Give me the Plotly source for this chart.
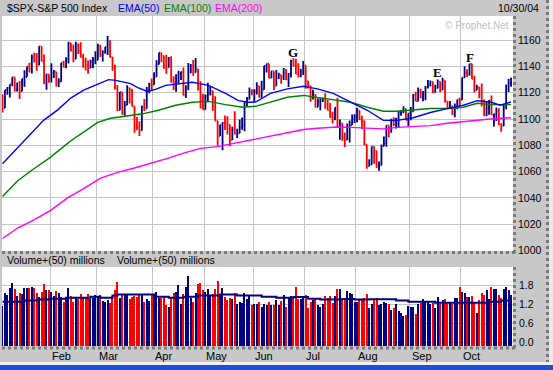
import plotly.graph_objects as go

# ---------------- data (S&P 500 daily, Jan 2 - Oct 29, 2004) ----------------
months = ["Feb", "Mar", "Apr", "May", "Jun", "Jul", "Aug", "Sep", "Oct"]
month_start = [20, 39, 62, 83, 103, 124, 145, 167, 188]  # session index of first trading day

closes = [
    1108.48, 1122.22, 1123.67, 1126.33, 1131.92, 1121.86, 1127.23, 1121.22, 1130.52, 1132.05, 1139.83, 1138.77, 1147.62, 1143.94, 1141.55, 1155.37, 1144.05, 1128.48, 1134.11, 1131.13,
    1135.26, 1136.03, 1126.52, 1128.59, 1142.76, 1139.81, 1145.54, 1157.76, 1152.11, 1145.81, 1156.99, 1151.82, 1147.06, 1144.11, 1140.99, 1139.09, 1143.67, 1144.91, 1144.94,
    1155.97, 1149.10, 1151.03, 1154.87, 1156.86, 1147.20, 1140.58, 1123.89, 1106.78, 1120.57, 1104.49, 1110.70, 1123.75, 1122.32, 1109.78, 1095.40, 1093.95, 1091.33, 1109.19, 1108.06, 1122.47, 1127.00, 1126.21,
    1132.17, 1141.81, 1150.57, 1148.16, 1140.53, 1139.32, 1145.20, 1129.44, 1128.17, 1128.84, 1134.61, 1135.82, 1118.15, 1124.09, 1139.93, 1140.60, 1135.53, 1138.11, 1122.41, 1113.89, 1107.30,
    1117.49, 1119.55, 1121.53, 1113.99, 1098.70, 1087.12, 1095.45, 1097.28, 1096.44, 1095.70, 1084.10, 1091.49, 1088.68, 1089.19, 1093.56, 1095.41, 1113.05, 1114.94, 1121.28, 1120.68,
    1121.20, 1124.99, 1116.64, 1122.50, 1140.42, 1142.18, 1131.33, 1136.47, 1125.29, 1132.01, 1133.56, 1132.05, 1135.02, 1130.30, 1134.41, 1144.06, 1140.65, 1134.43, 1133.35, 1136.20, 1140.84,
    1128.94, 1125.38, 1116.21, 1118.33, 1109.11, 1112.81, 1114.35, 1115.14, 1111.47, 1106.69, 1101.39, 1100.90, 1108.67, 1093.88, 1096.84, 1086.20, 1084.07, 1094.83, 1095.42, 1100.43, 1101.72,
    1106.62, 1099.69, 1098.63, 1080.70, 1063.97, 1065.22, 1079.04, 1075.79, 1063.23, 1064.80, 1079.34, 1081.71, 1095.17, 1091.23, 1098.35, 1095.68, 1096.19, 1104.96, 1105.09, 1107.77, 1099.15, 1104.24,
    1105.91, 1118.31, 1113.63, 1121.30, 1116.27, 1118.38, 1123.92, 1125.82, 1128.33, 1120.37, 1123.50, 1128.55, 1122.20, 1129.30, 1113.56, 1108.36, 1110.11, 1103.52, 1110.06, 1114.80, 1114.58,
    1131.50, 1135.17, 1134.48, 1142.05, 1130.65, 1122.14, 1124.39, 1121.84, 1113.65, 1103.29, 1108.20, 1114.02, 1103.23, 1103.66, 1106.49, 1095.74, 1094.80, 1111.09, 1125.40, 1127.44, 1130.20,
]

opens = [
    1111.92, 1108.48, 1122.22, 1123.67, 1126.33, 1131.92, 1121.86, 1127.23, 1121.22, 1130.52, 1132.05, 1139.83, 1138.77, 1147.62, 1143.94, 1141.55, 1155.37, 1144.05, 1128.48, 1134.11,
    1131.13, 1135.26, 1136.03, 1126.52, 1128.59, 1142.76, 1139.81, 1145.54, 1157.76, 1152.11, 1145.81, 1156.99, 1151.82, 1147.06, 1144.11, 1140.99, 1139.09, 1143.67, 1144.91,
    1144.94, 1155.97, 1149.10, 1151.03, 1154.87, 1156.86, 1147.20, 1140.58, 1123.89, 1106.78, 1120.57, 1104.49, 1110.70, 1123.75, 1122.32, 1109.78, 1095.40, 1093.95, 1091.33, 1109.19, 1108.06, 1122.47, 1127.00,
    1126.21, 1132.17, 1141.81, 1150.57, 1148.16, 1140.53, 1139.32, 1145.20, 1129.44, 1128.17, 1128.84, 1134.61, 1135.82, 1118.15, 1124.09, 1139.93, 1140.60, 1135.53, 1138.11, 1122.41, 1113.89,
    1107.30, 1117.49, 1119.55, 1121.53, 1113.99, 1098.70, 1087.12, 1095.45, 1097.28, 1096.44, 1095.70, 1084.10, 1091.49, 1088.68, 1089.19, 1093.56, 1095.41, 1113.05, 1114.94, 1121.28,
    1120.68, 1121.20, 1124.99, 1116.64, 1122.50, 1140.42, 1142.18, 1131.33, 1136.47, 1125.29, 1132.01, 1133.56, 1132.05, 1135.02, 1130.30, 1134.41, 1144.06, 1140.65, 1134.43, 1133.35, 1136.20,
    1140.84, 1128.94, 1125.38, 1116.21, 1118.33, 1109.11, 1112.81, 1114.35, 1115.14, 1111.47, 1106.69, 1101.39, 1100.90, 1108.67, 1093.88, 1096.84, 1086.20, 1084.07, 1094.83, 1095.42, 1100.43,
    1101.72, 1106.62, 1099.69, 1098.63, 1080.70, 1063.97, 1065.22, 1079.04, 1075.79, 1063.23, 1064.80, 1079.34, 1081.71, 1095.17, 1091.23, 1098.35, 1095.68, 1096.19, 1104.96, 1105.09, 1107.77, 1099.15,
    1104.24, 1105.91, 1118.31, 1113.63, 1121.30, 1116.27, 1118.38, 1123.92, 1125.82, 1128.33, 1120.37, 1123.50, 1128.55, 1122.20, 1129.30, 1113.56, 1108.36, 1110.11, 1103.52, 1110.06, 1114.80,
    1114.58, 1131.50, 1135.17, 1134.48, 1142.05, 1130.65, 1122.14, 1124.39, 1121.84, 1113.65, 1103.29, 1108.20, 1114.02, 1103.23, 1103.66, 1106.49, 1095.74, 1094.80, 1111.09, 1125.40, 1127.44,
]

highs = [
    1118.85, 1122.22, 1124.46, 1126.33, 1131.92, 1131.92, 1127.85, 1129.07, 1130.75, 1137.11, 1139.83, 1142.93, 1149.21, 1150.51, 1150.31, 1155.38, 1155.37, 1149.14, 1134.39, 1134.17,
    1142.45, 1137.44, 1136.03, 1131.17, 1142.79, 1144.46, 1147.02, 1158.89, 1157.76, 1156.88, 1158.98, 1157.40, 1158.57, 1149.81, 1146.69, 1144.54, 1145.24, 1147.23, 1151.68,
    1157.45, 1156.54, 1152.44, 1154.97, 1163.23, 1159.94, 1147.32, 1141.45, 1125.96, 1120.63, 1120.57, 1113.76, 1125.76, 1123.75, 1122.72, 1109.78, 1101.52, 1098.32, 1110.38, 1115.27, 1124.37, 1127.60, 1130.83,
    1135.67, 1144.81, 1150.57, 1150.57, 1148.16, 1148.97, 1147.29, 1147.78, 1132.52, 1134.08, 1136.80, 1136.18, 1139.26, 1125.72, 1142.77, 1141.92, 1145.08, 1146.56, 1138.11, 1128.80, 1119.26,
    1118.72, 1127.74, 1125.07, 1121.53, 1117.30, 1098.70, 1095.69, 1097.55, 1102.77, 1102.10, 1095.70, 1094.10, 1105.93, 1092.62, 1099.64, 1101.28, 1113.80, 1116.71, 1123.95, 1122.69,
    1122.70, 1128.10, 1125.31, 1129.17, 1140.54, 1142.18, 1142.18, 1136.47, 1136.47, 1137.36, 1135.28, 1133.56, 1138.96, 1138.05, 1135.05, 1145.15, 1146.34, 1145.97, 1142.60, 1138.26, 1144.20,
    1140.84, 1129.15, 1125.38, 1122.37, 1119.12, 1115.57, 1116.11, 1116.30, 1119.60, 1114.63, 1112.17, 1105.52, 1108.88, 1116.27, 1099.66, 1096.84, 1089.82, 1096.65, 1098.84, 1103.51, 1103.73,
    1108.60, 1106.62, 1102.45, 1098.79, 1080.70, 1069.46, 1079.04, 1079.04, 1075.79, 1067.58, 1080.66, 1086.78, 1095.17, 1095.17, 1100.26, 1101.40, 1100.94, 1106.29, 1106.78, 1109.68, 1107.77, 1104.24,
    1109.24, 1119.11, 1120.80, 1124.08, 1123.05, 1121.30, 1125.26, 1129.78, 1129.46, 1128.33, 1126.06, 1130.14, 1128.55, 1131.54, 1129.30, 1113.61, 1113.81, 1110.11, 1111.77, 1114.80, 1116.31,
    1131.64, 1140.13, 1137.87, 1142.05, 1142.05, 1132.92, 1126.20, 1124.39, 1127.01, 1114.96, 1113.17, 1114.46, 1117.96, 1104.09, 1108.87, 1108.14, 1096.81, 1111.10, 1126.29, 1130.67, 1131.40,
]

lows = [
    1105.08, 1108.48, 1118.44, 1116.45, 1124.91, 1120.90, 1120.90, 1115.19, 1121.22, 1124.54, 1132.05, 1135.40, 1134.62, 1143.01, 1136.85, 1141.00, 1144.05, 1126.50, 1122.38, 1127.73,
    1127.87, 1131.33, 1124.74, 1124.44, 1128.39, 1139.21, 1138.70, 1142.33, 1151.44, 1143.24, 1145.81, 1149.54, 1146.85, 1139.00, 1136.98, 1134.43, 1138.96, 1138.62, 1141.80,
    1144.94, 1147.31, 1143.78, 1149.81, 1148.77, 1146.97, 1136.84, 1122.53, 1105.87, 1106.78, 1103.36, 1102.61, 1110.70, 1111.78, 1109.69, 1089.54, 1091.57, 1087.16, 1091.33, 1106.13, 1108.06, 1119.66, 1121.46,
    1126.20, 1132.17, 1141.64, 1143.30, 1138.41, 1134.52, 1139.32, 1127.70, 1122.15, 1120.75, 1126.90, 1129.84, 1118.09, 1116.03, 1121.95, 1134.81, 1132.91, 1135.53, 1121.70, 1108.04, 1107.23,
    1107.30, 1112.89, 1117.90, 1106.30, 1098.63, 1079.63, 1087.12, 1076.32, 1091.76, 1088.24, 1079.36, 1084.10, 1088.49, 1085.43, 1089.19, 1091.77, 1090.74, 1109.91, 1114.86, 1118.10,
    1113.32, 1118.64, 1116.57, 1116.64, 1122.50, 1135.45, 1131.17, 1131.33, 1122.16, 1125.29, 1130.55, 1126.89, 1129.83, 1129.64, 1124.37, 1131.73, 1139.94, 1134.24, 1131.72, 1131.81, 1133.62,
    1123.06, 1123.26, 1113.21, 1114.92, 1108.72, 1109.11, 1106.71, 1112.99, 1107.83, 1106.67, 1101.07, 1096.55, 1099.10, 1093.88, 1084.16, 1083.56, 1078.78, 1084.07, 1082.17, 1095.42, 1096.96,
    1097.34, 1099.26, 1092.40, 1079.98, 1062.23, 1063.97, 1065.22, 1065.92, 1062.82, 1060.72, 1064.80, 1079.34, 1078.93, 1086.06, 1089.57, 1094.73, 1092.82, 1093.24, 1102.46, 1104.62, 1099.15, 1094.72,
    1099.18, 1105.60, 1113.57, 1113.63, 1116.11, 1113.62, 1114.39, 1123.35, 1124.72, 1119.82, 1120.37, 1123.50, 1120.34, 1122.20, 1112.67, 1108.05, 1108.36, 1103.24, 1101.29, 1107.42, 1109.68,
    1114.58, 1131.50, 1132.03, 1132.94, 1130.50, 1120.19, 1122.14, 1115.77, 1109.63, 1102.06, 1102.14, 1103.33, 1103.15, 1094.25, 1098.47, 1095.47, 1090.29, 1094.80, 1107.43, 1120.60, 1124.62,
]

# volume (as labelled on the chart axis)
volume = [
    1.13, 1.56, 1.48, 1.70, 1.86, 1.67, 1.44, 1.54, 1.51, 1.70, 1.70, 1.70, 1.75, 1.70, 1.54, 1.43, 1.58, 1.83, 1.64, 1.64,
    1.58, 1.46, 1.61, 1.56, 1.43, 1.26, 1.37, 1.70, 1.44, 1.28, 1.38, 1.35, 1.51, 1.43, 1.38, 1.51, 1.37, 1.40, 1.50,
    1.44, 1.48, 1.31, 1.25, 1.34, 1.22, 1.46, 1.64, 1.89, 1.38, 1.47, 1.51, 1.49, 1.36, 1.41, 1.44, 1.41, 1.50, 1.49, 1.28, 1.36, 1.31, 1.47,
    1.50, 1.59, 1.38, 1.39, 1.41, 1.17, 1.10, 1.39, 1.55, 1.57, 1.79, 1.19, 1.52, 1.74, 2.10, 1.38, 1.26, 1.54, 1.83, 1.86, 1.64,
    1.58, 1.67, 1.49, 1.51, 1.66, 1.93, 1.51, 1.70, 1.41, 1.33, 1.40, 1.36, 1.55, 1.19, 1.25, 1.22, 1.54, 1.35, 1.46, 1.16,
    1.21, 1.21, 1.25, 1.10, 1.19, 1.18, 1.25, 1.17, 1.17, 1.32, 1.17, 1.29, 1.48, 1.10, 1.42, 1.44, 1.40, 1.73, 1.36, 1.36, 1.43,
    1.48, 1.07, 1.25, 1.33, 1.36, 1.17, 1.10, 1.19, 1.44, 1.40, 1.44, 1.23, 1.46, 1.68, 1.68, 1.33, 1.40, 1.61, 1.54, 1.52, 1.26,
    1.25, 1.34, 1.37, 1.38, 1.51, 1.07, 1.21, 1.37, 1.38, 1.16, 1.20, 1.26, 1.22, 1.19, 1.00, 1.07, 1.19, 0.98, 0.92, 0.83, 0.85, 1.13,
    1.12, 1.10, 0.90, 1.21, 1.23, 1.36, 1.26, 1.29, 1.20, 1.23, 1.09, 1.41, 1.19, 1.32, 1.35, 1.25, 1.25, 1.21, 1.39, 1.39, 1.73,
    1.57, 1.54, 1.41, 1.41, 1.44, 1.26, 0.93, 1.32, 1.54, 1.48, 1.64, 1.35, 1.73, 1.67, 1.67, 1.48, 1.39, 1.68, 1.73, 1.64, 1.49,
]

# 50-day volume average (stepped line, read at its steps)
vavg_idx = [0, 9, 14, 19, 26, 36, 40, 45, 47, 62, 68, 74, 80, 89, 96, 106, 112, 119, 125, 130, 139, 144, 150, 161, 166, 177, 199, 204, 208]
vavg_val = [1.27, 1.31, 1.34, 1.37, 1.40, 1.43, 1.40, 1.47, 1.50, 1.43, 1.40, 1.43, 1.47, 1.50, 1.47, 1.43, 1.40, 1.42, 1.37, 1.34, 1.36, 1.34, 1.35, 1.31, 1.27, 1.24, 1.27, 1.31, 1.31]

# moving averages
ema50_idx = [0, 9.5, 12.7, 16.8, 22.6, 27.9, 33.2, 40.1, 43.4, 46.3, 52.4, 55.3, 59.3, 62.6, 66.7, 77.7, 84.3, 91.2, 96.5, 100.6, 103.5, 109.6, 116.5, 123.1, 128.8, 135.3, 142.3, 149.2, 155.8, 161.5, 168, 175, 181.9, 188.5, 194.2, 199.5, 203.6, 208]
ema50_val = [1066, 1085, 1091, 1099, 1107, 1116, 1122, 1127, 1130, 1129.5, 1127, 1124, 1121, 1122.6, 1125.7, 1128, 1125.7, 1119.6, 1114, 1112.8, 1113, 1119.6, 1123, 1125, 1123, 1119.6, 1113, 1106.7, 1099, 1099, 1101, 1105, 1108, 1110.5, 1114, 1113, 1110.5, 1113]

ema100_idx = [0, 6.2, 12.7, 19.7, 26.6, 29.1, 33.2, 36, 38.9, 44.2, 52.4, 57.3, 63.8, 70.8, 77.7, 84.3, 91.2, 98.2, 103.5, 109.6, 116.5, 123.1, 128.8, 135.3, 142.3, 149.2, 155.8, 161.5, 168, 175, 181.9, 188.5, 194.2, 199.5, 208]
ema100_val = [1041, 1053, 1062, 1071, 1081.5, 1085, 1090, 1094, 1097.5, 1100.6, 1103, 1104, 1106.7, 1110.5, 1112.8, 1113.5, 1111, 1109, 1109.7, 1112.8, 1116.6, 1118, 1116.6, 1115, 1112.8, 1109, 1106, 1106, 1106.7, 1108, 1108, 1109, 1112, 1111, 1111]

ema200_idx = [0, 6.2, 12.7, 19.7, 26.6, 33.2, 40.1, 47.1, 53.6, 60.6, 67.5, 74.1, 81, 87.9, 94.5, 101.4, 109.6, 116.5, 123.1, 128.8, 137, 142.3, 150.5, 155.8, 161.5, 168, 175, 181.9, 188.5, 194.2, 199.5, 208]
ema200_val = [1009, 1017, 1023, 1030.5, 1040, 1047, 1055, 1059.4, 1062.5, 1066, 1070, 1074, 1077.7, 1079, 1081.5, 1083.8, 1087, 1090, 1092, 1093, 1094, 1093.7, 1093, 1092.5, 1093.7, 1094.5, 1095, 1096.8, 1098, 1099.5, 1100, 1101]

marks = ["G", "E", "F"]
mark_idx = [119, 177.8, 191.3]
mark_price = [1151, 1135.6, 1147]

# ---------------- figure ----------------
W, H = 553, 370
ML, MR, MT, MB = 2, 40, 16, 24
PW, PH = W - ML - MR, H - MT - MB


def px(x):
    return (x - ML) / PW


def py(y):
    return (H - MB - y) / PH


NAVY = "#000080"
RED = "#ff0000"
GRID = "#c4c4c4"
BG = "#c8c8c8"
FONT = "Arial, Liberation Sans, sans-serif"

n = len(closes)
idx = list(range(n))
vol_colors = [NAVY if (i == 0 or closes[i] >= closes[i - 1]) else RED for i in idx]
VBASE = -0.126

fig = go.Figure()

fig.add_trace(go.Scatter(x=ema200_idx, y=ema200_val, mode="lines", line=dict(color="#ff00ff", width=1.4),
                         hoverinfo="skip", xaxis="x", yaxis="y"))
fig.add_trace(go.Scatter(x=ema100_idx, y=ema100_val, mode="lines", line=dict(color="#008000", width=1.4),
                         hoverinfo="skip", xaxis="x", yaxis="y"))
fig.add_trace(go.Scatter(x=ema50_idx, y=ema50_val, mode="lines", line=dict(color="#0000ff", width=1.4),
                         hoverinfo="skip", xaxis="x", yaxis="y"))
fig.add_trace(go.Ohlc(x=idx, open=opens, high=highs, low=lows, close=closes,
                      increasing=dict(line=dict(color=NAVY, width=1.8)),
                      decreasing=dict(line=dict(color=RED, width=1.8)),
                      tickwidth=0.4, hoverinfo="skip", xaxis="x", yaxis="y"))

fig.add_trace(go.Bar(x=idx, y=[v - VBASE for v in volume], base=VBASE, width=0.45,
                     marker=dict(color=vol_colors, line=dict(width=0)),
                     hoverinfo="skip", xaxis="x2", yaxis="y2"))
fig.add_trace(go.Scatter(x=vavg_idx, y=vavg_val, mode="lines", line=dict(color=NAVY, width=2, shape="hv"),
                         hoverinfo="skip", xaxis="x2", yaxis="y2"))

grid_x = [s - 0.5 for s in month_start]
xcommon = dict(range=[-0.2, 208.8], tickvals=grid_x, showticklabels=False, showgrid=True,
               gridcolor=GRID, gridwidth=1, zeroline=False, showline=False, ticks="", fixedrange=True)

fig.update_layout(
    width=W, height=H,
    margin=dict(l=ML, r=MR, t=MT, b=MB, pad=0),
    paper_bgcolor=BG, plot_bgcolor="#ffffff",
    showlegend=False, bargap=0,
    font=dict(family=FONT, size=11, color="#000000"),
    xaxis=dict(anchor="y", domain=[0, 1], rangeslider=dict(visible=False), **xcommon),
    yaxis=dict(anchor="x", domain=[py(251), 1], range=[999.5, 1178.5], side="right",
               tickvals=list(range(1000, 1161, 20)), showgrid=True, gridcolor=GRID, gridwidth=1,
               zeroline=False, showline=False, ticks="", ticklabelstandoff=4,
               tickfont=dict(family=FONT, size=10.5, color="#000000"), fixedrange=True),
    xaxis2=dict(anchor="y2", domain=[0, 1], rangeslider=dict(visible=False), **xcommon),
    yaxis2=dict(anchor="x2", domain=[0, py(267)], range=[VBASE, 2.37], side="right",
                tickvals=[0, 0.6, 1.2, 1.8], ticktext=["0.0", "0.6", "1.2", "1.8"],
                showgrid=True, gridcolor=GRID, gridwidth=1, zeroline=False, showline=False,
                ticks="", ticklabelstandoff=5,
                tickfont=dict(family=FONT, size=10.5, color="#000000"), fixedrange=True),
)

ann = []
# header texts
ann.append(dict(x=px(5), y=py(8), xref="paper", yref="paper", xanchor="left", yanchor="middle",
                text="$SPX-S&P 500 Index", showarrow=False, font=dict(family=FONT, size=10.5, color="#000000")))
ann.append(dict(x=px(116), y=py(8), xref="paper", yref="paper", xanchor="left", yanchor="middle",
                text="EMA(50)", showarrow=False, font=dict(family=FONT, size=10.5, color="#0000ff")))
ann.append(dict(x=px(162), y=py(8), xref="paper", yref="paper", xanchor="left", yanchor="middle",
                text="EMA(100)", showarrow=False, font=dict(family=FONT, size=10.5, color="#008000")))
ann.append(dict(x=px(213), y=py(8), xref="paper", yref="paper", xanchor="left", yanchor="middle",
                text="EMA(200)", showarrow=False, font=dict(family=FONT, size=10.5, color="#ff00ff")))
ann.append(dict(x=px(541), y=py(8), xref="paper", yref="paper", xanchor="right", yanchor="middle",
                text="10/30/04", showarrow=False, font=dict(family=FONT, size=10.5, color="#000000")))
ann.append(dict(x=px(511), y=py(26), xref="paper", yref="paper", xanchor="right", yanchor="middle",
                text="© Prophet.Net", showarrow=False, font=dict(family=FONT, size=10, color="#c0c0c0")))
ann.append(dict(x=px(5), y=py(260), xref="paper", yref="paper", xanchor="left", yanchor="middle",
                text="Volume+(50) millions", showarrow=False, font=dict(family=FONT, size=10.5, color="#000000")))
ann.append(dict(x=px(115), y=py(260), xref="paper", yref="paper", xanchor="left", yanchor="middle",
                text="Volume+(50) millions", showarrow=False, font=dict(family=FONT, size=10.5, color="#000000")))
# month labels
for m, s in zip(months, month_start):
    ann.append(dict(x=s - 0.5, y=py(356), xref="x2", yref="paper", xanchor="left", yanchor="middle",
                    text=m, showarrow=False, font=dict(family=FONT, size=11, color="#000000")))
# pattern markers
for t, xi, yv in zip(marks, mark_idx, mark_price):
    ann.append(dict(x=xi, y=yv, xref="x", yref="y", xanchor="center", yanchor="middle", text="<b>%s</b>" % t,
                    showarrow=False, font=dict(family="Liberation Serif, Times New Roman, serif", size=13, color="#000000")))
fig.update_layout(annotations=ann)

shapes = []
dot = dict(color="#7a7a7a", width=3, dash="dot")
for (x0, y0, x1, y1) in [(514.5, 16, 514.5, 253), (2, 252.5, 516, 252.5),
                         (514.5, 267, 514.5, 349), (2, 348, 516, 348),
                         (547.5, 0, 547.5, 362)]:
    shapes.append(dict(type="line", xref="paper", yref="paper", x0=px(x0), y0=py(y0), x1=px(x1), y1=py(y1),
                       line=dot))
shapes.append(dict(type="rect", xref="paper", yref="paper", x0=px(549), y0=py(0), x1=px(553), y1=py(364),
                   fillcolor="#e8e8e8", line=dict(width=0)))
shapes.append(dict(type="rect", xref="paper", yref="paper", x0=px(0), y0=py(362), x1=px(553), y1=py(365),
                   fillcolor="#f0f0f0", line=dict(width=0)))
shapes.append(dict(type="rect", xref="paper", yref="paper", x0=px(0), y0=py(365), x1=px(553), y1=py(371),
                   fillcolor="#2050d8", line=dict(width=0)))
fig.update_layout(shapes=shapes)

fig.write_html("out.html", config={"displayModeBar": False},
               post_script="document.body.style.margin='0';document.body.style.overflow='hidden';")
